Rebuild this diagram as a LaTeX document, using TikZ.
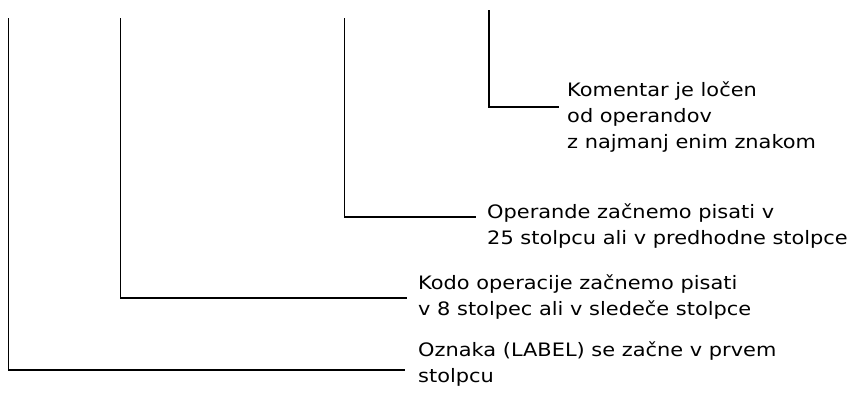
\documentclass[tikz,border=0pt]{standalone}
\usepackage{fontspec}
\setmainfont{DejaVu Sans}[FakeStretch=1.13]
\usepackage{tikz}

\begin{document}
\begin{tikzpicture}[x=1pt, y=-1pt,
    note/.style={anchor=base west, align=left, inner sep=0pt,
      font=\fontsize{18.5}{25.8}\selectfont},
    lead/.style={line width=1.7pt}]
  \useasboundingbox (0, 0) rectangle (861, 394);

  % label column
  \coordinate (label top) at (8.5, 18);
  \coordinate (label end) at (405, 370);
  \node[note] (label) at (418, 382) {Oznaka (LABEL) se začne v prvem\\stolpcu};
  \draw[lead] (label top) |- (label end);

  % operation code
  \coordinate (opcode top) at (120.5, 18);
  \coordinate (opcode end) at (407, 298);
  \node[note] (opcode) at (418, 315) {Kodo operacije začnemo pisati\\v 8 stolpec ali v sledeče stolpce};
  \draw[lead] (opcode top) |- (opcode end);

  % operands
  \coordinate (operand top) at (344.5, 18);
  \coordinate (operand end) at (476, 217);
  \node[note] (operand) at (487, 244) {Operande začnemo pisati v\\25 stolpcu ali v predhodne stolpce};
  \draw[lead] (operand top) |- (operand end);

  % comment
  \coordinate (comment top) at (489, 10);
  \coordinate (comment end) at (559, 107);
  \node[note] (comment) at (567, 148) {Komentar je ločen\\od operandov\\z najmanj enim znakom};
  \draw[lead] (comment top) |- (comment end);

\end{tikzpicture}
\end{document}
